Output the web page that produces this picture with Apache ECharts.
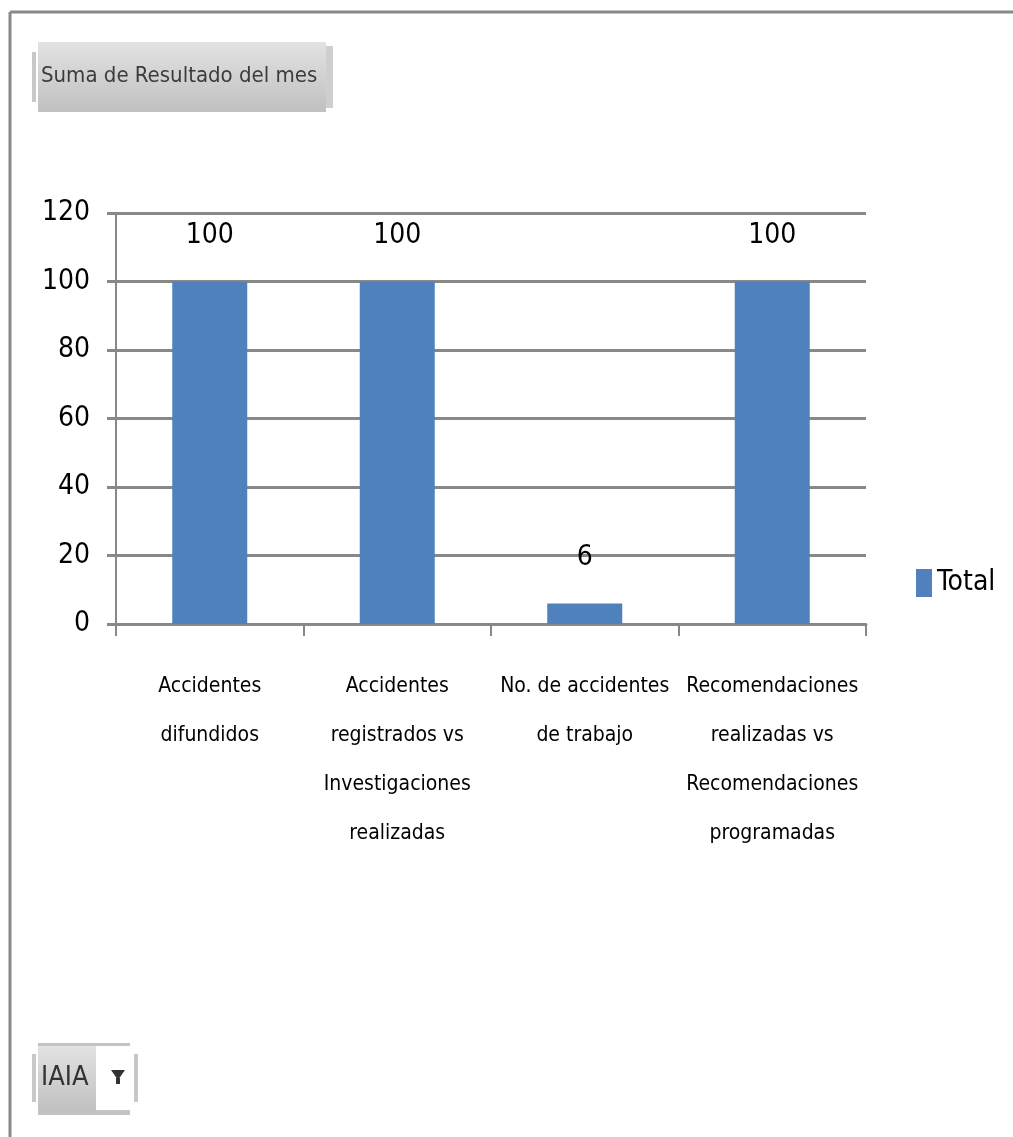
<!DOCTYPE html>
<html>
<head>
<meta http-equiv="Content-Type" content="text/html; charset=utf-8" />
<script src="https://cdn.jsdelivr.net/npm/echarts@6/dist/echarts.min.js"></script>
<style>
  html, body { margin: 0; padding: 0; background: #fff; }
  #chart { width: 1013px; height: 1137px; }
</style>
</head>
<body>
<div id="chart"></div>
<script type="text/javascript">
// categorias y valores
var categorias = [
    'Accidentes\ndifundidos',
    'Accidentes\nregistrados vs\nInvestigaciones\nrealizadas',
    'No. de accidentes\nde trabajo',
    'Recomendaciones\nrealizadas vs\nRecomendaciones\nprogramadas'
];
var valores = [100, 100, 6, 100];
var nombreSerie = 'Total';
var tituloCampo = 'Suma de Resultado del mes';
var filtro = 'IAIA';

var fuente = '"Liberation Sans Narrow", "DejaVu Sans Condensed", "Noto Sans", sans-serif';
var gris = '#888888';

var chart = echarts.init(document.getElementById('chart'));
var option = {
    backgroundColor: '#ffffff',
    animation: false,
    textStyle: { fontFamily: fuente },
    grid: { left: 116, top: 213, right: 147, bottom: 513 },
    legend: {
        data: [nombreSerie],
        orient: 'vertical',
        left: 911,
        top: 564,
        icon: 'rect',
        itemWidth: 16,
        itemHeight: 28,
        itemGap: 6,
        textStyle: { fontSize: 28, color: '#000', fontFamily: fuente }
    },
    xAxis: {
        type: 'category',
        data: categorias,
        boundaryGap: true,
        axisLine: { lineStyle: { color: gris, width: 3 } },
        axisTick: { show: true, length: 12, lineStyle: { color: gris, width: 2 } },
        axisLabel: {
            interval: 0,
            margin: 38,
            fontSize: 21,
            lineHeight: 49,
            color: '#000',
            fontFamily: fuente
        }
    },
    yAxis: {
        type: 'value',
        min: 0,
        max: 120,
        interval: 20,
        axisLine: { show: true, lineStyle: { color: gris, width: 2 } },
        axisTick: { show: true, inside: false, length: 9, lineStyle: { color: gris, width: 3 } },
        splitLine: { lineStyle: { color: gris, width: 3 } },
        axisLabel: { fontSize: 28, color: '#000', margin: 26, fontFamily: fuente }
    },
    series: [{
        name: nombreSerie,
        type: 'bar',
        data: valores,
        barWidth: '40%',
        itemStyle: { color: '#4f81bd' },
        label: {
            show: true,
            position: 'top',
            distance: 32,
            fontSize: 28,
            color: '#000',
            fontFamily: fuente
        }
    }],
    graphic: [
        // borde exterior
        { type: 'line', shape: { x1: 10, y1: 12, x2: 1013, y2: 12 }, style: { stroke: gris, lineWidth: 3 } },
        { type: 'line', shape: { x1: 10, y1: 12, x2: 10, y2: 1137 }, style: { stroke: gris, lineWidth: 3 } },
        // boton campo de valores
        { type: 'rect', shape: { x: 38, y: 42, width: 288, height: 70 },
          style: { fill: new echarts.graphic.LinearGradient(0, 0, 0, 1, [
              { offset: 0, color: '#e2e2e2' }, { offset: 1, color: '#c0c0c0' }]) } },
        { type: 'rect', shape: { x: 326, y: 46, width: 7, height: 62 }, style: { fill: '#cfcfcf' } },
        { type: 'rect', shape: { x: 32, y: 52, width: 4, height: 50 }, style: { fill: '#c8c8c8' } },
        { type: 'text', left: 41, top: 65,
          style: { text: tituloCampo, fontSize: 22, fill: '#3c3c3c', fontFamily: fuente } },
        // boton filtro
        { type: 'rect', shape: { x: 38, y: 1043, width: 92, height: 72 }, style: { fill: '#c4c4c4' } },
        { type: 'rect', shape: { x: 38, y: 1046, width: 58, height: 66 },
          style: { fill: new echarts.graphic.LinearGradient(0, 0, 0, 1, [
              { offset: 0, color: '#e2e2e2' }, { offset: 1, color: '#c0c0c0' }]) } },
        { type: 'rect', shape: { x: 96, y: 1046, width: 34, height: 64 }, style: { fill: '#ffffff' } },
        { type: 'rect', shape: { x: 32, y: 1054, width: 4, height: 48 }, style: { fill: '#c8c8c8' } },
        { type: 'rect', shape: { x: 134, y: 1054, width: 4, height: 48 }, style: { fill: '#c8c8c8' } },
        { type: 'text', left: 41, top: 1064,
          style: { text: filtro, fontSize: 27, fill: '#333', fontFamily: fuente } },
        { type: 'polygon', shape: { points: [[111, 1070], [125, 1070], [118, 1080]] }, style: { fill: '#333' } },
        { type: 'rect', shape: { x: 116, y: 1078, width: 4, height: 6 }, style: { fill: '#333' } }
    ]
};
chart.setOption(option);
</script>
</body>
</html>
